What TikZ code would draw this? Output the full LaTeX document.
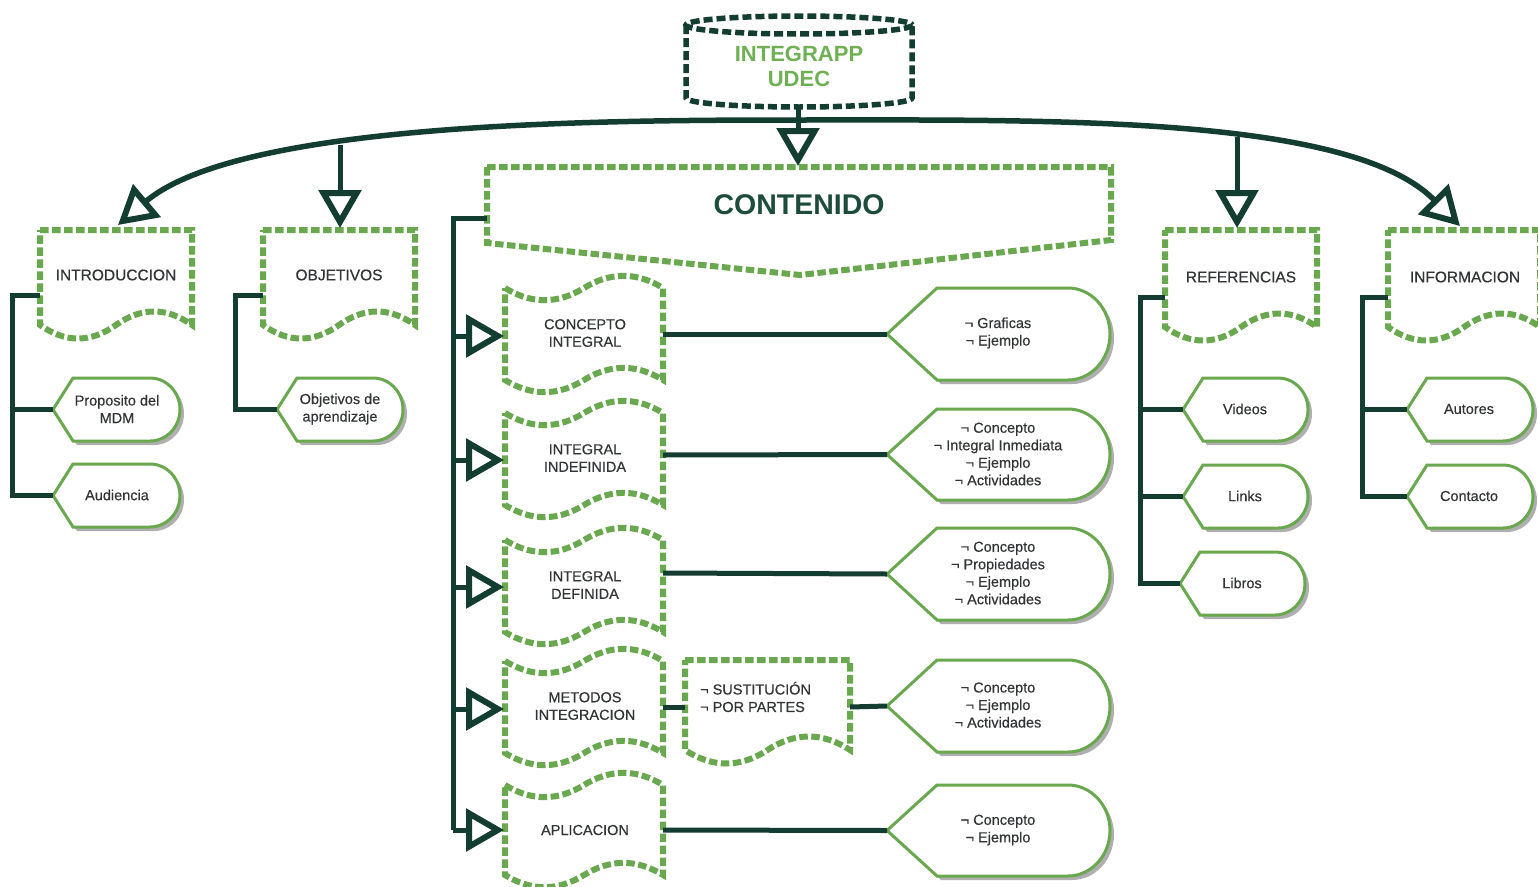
\documentclass[tikz,border=0pt]{standalone}
\usepackage{fontspec}
\setmainfont{Liberation Sans}
\newfontfamily\lblfont{Liberation Sans}[FakeBold=0.4]
\usetikzlibrary{arrows.meta,calc}
\definecolor{lg}{RGB}{106,168,79}
\definecolor{tg}{RGB}{112,176,84}
\definecolor{dg}{RGB}{18,61,48}
\definecolor{cg}{RGB}{29,76,60}
\definecolor{tx}{RGB}{50,52,54}
\definecolor{sh}{RGB}{175,175,175}
\tikzset{
  x=1pt, y=-1pt,
  >={Triangle[length=38pt,width=42pt,line width=6pt,fill=white]},
  gdash/.style={draw=lg, line width=6pt, dash pattern=on 8.5pt off 3.5pt, fill=white},
  ddash/.style={draw=dg, line width=5.5pt, dash pattern=on 9pt off 4pt, fill=white},
  conn/.style={draw=dg, line width=5pt},
  dshad/.style={fill=sh},
  dbody/.style={draw=lg, line width=3pt, fill=white},
  lbl/.style={text=tx, font=\lblfont\fontsize{15.5}{18}\selectfont, align=center, inner sep=0pt},
  tlbl/.style={text=tx, font=\lblfont\fontsize{14.5}{17.5}\selectfont, align=center, inner sep=0pt},
  dlbl/.style={text=tx, font=\lblfont\fontsize{14.5}{17.5}\selectfont, align=center, inner sep=0pt},
}
% document shape: x1 y1 x2 yend dy
\newcommand\mydoc[5]{%
 \pgfmathsetmacro\xa{#1}\pgfmathsetmacro\ya{#2}\pgfmathsetmacro\xb{#3}%
 \pgfmathsetmacro\ye{#4}\pgfmathsetmacro\dy{#5}%
 \pgfmathsetmacro\xm{(\xa+\xb)/2}\pgfmathsetmacro\ws{(\xb-\xa)/6}%
 \path[gdash] (\xa,\ya) -- (\xb,\ya) -- (\xb,\ye)
   .. controls ({\xb-\ws},{\ye-0.6*\dy}) and ({\xm+\ws},{\ye-0.6*\dy}) .. (\xm,\ye)
   .. controls ({\xm-\ws},{\ye+0.6*\dy}) and ({\xa+\ws},{\ye+0.6*\dy}) .. (\xa,\ye) -- cycle;}
% tape shape: x1 x2 ytop ybottom dy
\newcommand\mytape[5]{%
 \pgfmathsetmacro\xa{#1}\pgfmathsetmacro\xb{#2}\pgfmathsetmacro\yt{#3}%
 \pgfmathsetmacro\yb{#4}\pgfmathsetmacro\dy{#5}%
 \pgfmathsetmacro\xm{(\xa+\xb)/2}\pgfmathsetmacro\ws{(\xb-\xa)/6}%
 \path[gdash] (\xa,\yt)
   .. controls ({\xa+\ws},{\yt+0.6*\dy}) and ({\xm-\ws},{\yt+0.6*\dy}) .. (\xm,\yt)
   .. controls ({\xm+\ws},{\yt-0.6*\dy}) and ({\xb-\ws},{\yt-0.6*\dy}) .. (\xb,\yt)
   -- (\xb,\yb)
   .. controls ({\xb-\ws},{\yb-0.6*\dy}) and ({\xm+\ws},{\yb-0.6*\dy}) .. (\xm,\yb)
   .. controls ({\xm-\ws},{\yb+0.6*\dy}) and ({\xa+\ws},{\yb+0.6*\dy}) .. (\xa,\yb) -- cycle;}
% display shape: x1 y1 x2 y2 dxleft rxright
\newcommand\mydisp[6]{%
 \pgfmathsetmacro\xa{#1}\pgfmathsetmacro\ya{#2}\pgfmathsetmacro\xb{#3}%
 \pgfmathsetmacro\yb{#4}\pgfmathsetmacro\dl{#5}\pgfmathsetmacro\rx{#6}%
 \pgfmathsetmacro\ym{(\ya+\yb)/2}\pgfmathsetmacro\hh{(\yb-\ya)/2}%
 \foreach \sx/\st in {4/dshad, 0/dbody}{%
 \path[\st, shift={(\sx,\sx)}] (\xa,\ym) -- ({\xa+\dl},\ya) -- ({\xb-\rx},\ya)
   .. controls ({\xb-0.45*\rx},\ya) and (\xb,{\ym-0.552*\hh}) .. (\xb,\ym)
   .. controls (\xb,{\ym+0.552*\hh}) and ({\xb-0.45*\rx},\yb) .. ({\xb-\rx},\yb)
   -- ({\xa+\dl},\yb) -- cycle;}}
\begin{document}
\begin{tikzpicture}
\useasboundingbox[fill=white] (0,0) rectangle (1538,886);

% ---------- top cylinder ----------
\path[ddash] (686,25) -- (686,98) .. controls (686,103) and (736,107) .. (799,107)
  .. controls (862,107) and (912,103) .. (912,98) -- (912,25);
\path[ddash] (799,25) ellipse [x radius=113, y radius=9];
\node[inner sep=0pt, text=tg, font=\bfseries\fontsize{22}{25}\selectfont, align=center] (top) at (799,66) {INTEGRAPP\\UDEC};
\coordinate (topb) at (798,107);

% ---------- CONTENIDO ----------
\path[gdash] (487,167) -- (1111,167) -- (1111,240) -- (800,275) -- (487,243) -- cycle;
\node[inner sep=0pt, text=cg, font=\bfseries\fontsize{28.5}{30}\selectfont] (cont) at (799,205) {CONTENIDO};
\coordinate (contt) at (798,166);
\coordinate (contl) at (487,218);

% ---------- top-level documents ----------
\mydoc{40}{230}{192}{325}{30}
\node[lbl] (intro) at (116,275) {INTRODUCCION};
\mydoc{263}{230}{415}{325}{30}
\node[lbl] (obj) at (339,275) {OBJETIVOS};
\mydoc{1165}{230}{1317}{327}{30}
\node[lbl] (ref) at (1241,277) {REFERENCIAS};
\mydoc{1388}{230}{1540}{327}{30}
\node[lbl] (info) at (1465,277) {INFORMACION};

\coordinate (introt) at (118,225);
\coordinate (objt) at (340,228);
\coordinate (reft) at (1237,228);
\coordinate (infot) at (1460,226);
\coordinate (introl) at (40,295);
\coordinate (objl) at (263,295);
\coordinate (refl) at (1165,297);
\coordinate (infol) at (1388,297);
\coordinate (arcm) at (798,120);
\coordinate (arco) at (340,145);
\coordinate (arcr) at (1237,137);

% ---------- small displays ----------
\mydisp{53}{378}{180}{441}{20}{30}
\node[dlbl] (prop) at (117,409) {Proposito del\\MDM};
\mydisp{53}{464}{180}{527}{20}{30}
\node[dlbl] (aud) at (117,495) {Audiencia};
\mydisp{277}{378}{403}{441}{20}{30}
\node[dlbl] (objap) at (340,409) {Objetivos de\\aprendizaje};
\mydisp{1183}{378}{1308}{441}{20}{30}
\node[dlbl] (vid) at (1245,409) {Videos};
\mydisp{1183}{465}{1308}{528}{20}{30}
\node[dlbl] (lnk) at (1245,496) {Links};
\mydisp{1180}{552}{1305}{615}{20}{30}
\node[dlbl] (lib) at (1242,583) {Libros};
\mydisp{1407}{378}{1533}{441}{20}{30}
\node[dlbl] (aut) at (1469,409) {Autores};
\mydisp{1407}{465}{1533}{528}{20}{30}
\node[dlbl] (cto) at (1469,496) {Contacto};

\coordinate (propl) at (53,409.5);
\coordinate (audl) at (53,495.5);
\coordinate (objapl) at (277,409.5);
\coordinate (vidl) at (1183,409.5);
\coordinate (lnkl) at (1183,496.5);
\coordinate (libl) at (1180,583.5);
\coordinate (autl) at (1407,409.5);
\coordinate (ctol) at (1407,496.5);

% ---------- tapes ----------
\mytape{505}{663}{288}{380}{27}
\node[tlbl] (ci) at (585,333) {CONCEPTO\\INTEGRAL};
\mytape{505}{663}{413}{505}{27}
\node[tlbl] (ii) at (585,458) {INTEGRAL\\INDEFINIDA};
\mytape{505}{663}{540}{632}{27}
\node[tlbl] (id) at (585,585) {INTEGRAL\\DEFINIDA};
\mytape{505}{663}{661}{753}{27}
\node[tlbl] (mi) at (585,706) {METODOS\\INTEGRACION};
\mytape{505}{663}{785}{875}{27}
\node[tlbl] (ap) at (585,830) {APLICACION};

% ---------- sustitucion document ----------
\mydoc{685}{660}{850}{750}{30}
\node[tlbl, align=left, anchor=west] (sust) at (700,697) {¬ SUSTITUCIÓN\\¬ POR PARTES};

% ---------- large displays ----------
\mydisp{887}{288}{1110}{380}{50}{42}
\node[dlbl] (d1) at (998,333) {¬ Graficas\\¬ Ejemplo};
\mydisp{887}{409}{1110}{500}{50}{42}
\node[dlbl] (d2) at (998,454) {¬ Concepto\\¬ Integral Inmediata\\¬ Ejemplo\\¬ Actividades};
\mydisp{887}{528}{1110}{620}{50}{42}
\node[dlbl] (d3) at (998,573) {¬ Concepto\\¬ Propiedades\\¬ Ejemplo\\¬ Actividades};
\mydisp{887}{660}{1110}{752}{50}{42}
\node[dlbl] (d4) at (998,705) {¬ Concepto\\¬ Ejemplo\\¬ Actividades};
\mydisp{887}{785}{1110}{876}{50}{42}
\node[dlbl] (d5) at (998,830) {¬ Concepto\\¬ Ejemplo};

% anchors
\coordinate (cil) at (504,336); \coordinate (cir) at (663,334);
\coordinate (iil) at (504,460); \coordinate (iir) at (663,455);
\coordinate (idl) at (504,587); \coordinate (idr) at (663,573);
\coordinate (mil) at (504,709); \coordinate (mir) at (663,707);
\coordinate (apl) at (504,830); \coordinate (apr) at (663,830);
\coordinate (sustl) at (685,707); \coordinate (sustr) at (850,707);
\coordinate (d1l) at (887,334); \coordinate (d2l) at (887,454.5);
\coordinate (d3l) at (887,574); \coordinate (d4l) at (887,706);
\coordinate (d5l) at (887,830.5);
\coordinate (cb) at (453,218); \coordinate (ce) at (453,830);

% ---------- connectors ----------
\draw[conn, line width=5.5pt, <->] (introt) .. controls (240,122) and (600,120) .. (arcm)
  .. controls (1050,120) and (1350,115) .. (infot);
\draw[conn, ->] (topb) -- (contt);
\draw[conn, ->] (arco) -- (objt);
\draw[conn, ->] (arcr) -- (reft);

\draw[conn] (contl) -- (cb) -- (ce);
\foreach \t in {cil,iil,idl,mil,apl}{\draw[conn, ->] (cb |- \t) -- (\t);}

\draw[conn] (cir) -- (d1l);
\draw[conn] (iir) -- (d2l);
\draw[conn] (idr) -- (d3l);
\draw[conn] (mir) -- (sustl);
\draw[conn] (sustr) -- (d4l);
\draw[conn] (apr) -- (d5l);

\draw[conn] (introl) -- (12,295) -- (12,495.5) -- (audl);
\draw[conn] (12,409.5) -- (propl);
\draw[conn] (objl) -- (235,295) -- (235,409.5) -- (objapl);
\draw[conn] (refl) -- (1140,297) -- (1140,583.5) -- (libl);
\draw[conn] (1140,409.5) -- (vidl);
\draw[conn] (1140,496.5) -- (lnkl);
\draw[conn] (infol) -- (1362,297) -- (1362,496.5) -- (ctol);
\draw[conn] (1362,409.5) -- (autl);
\end{tikzpicture}
\end{document}
